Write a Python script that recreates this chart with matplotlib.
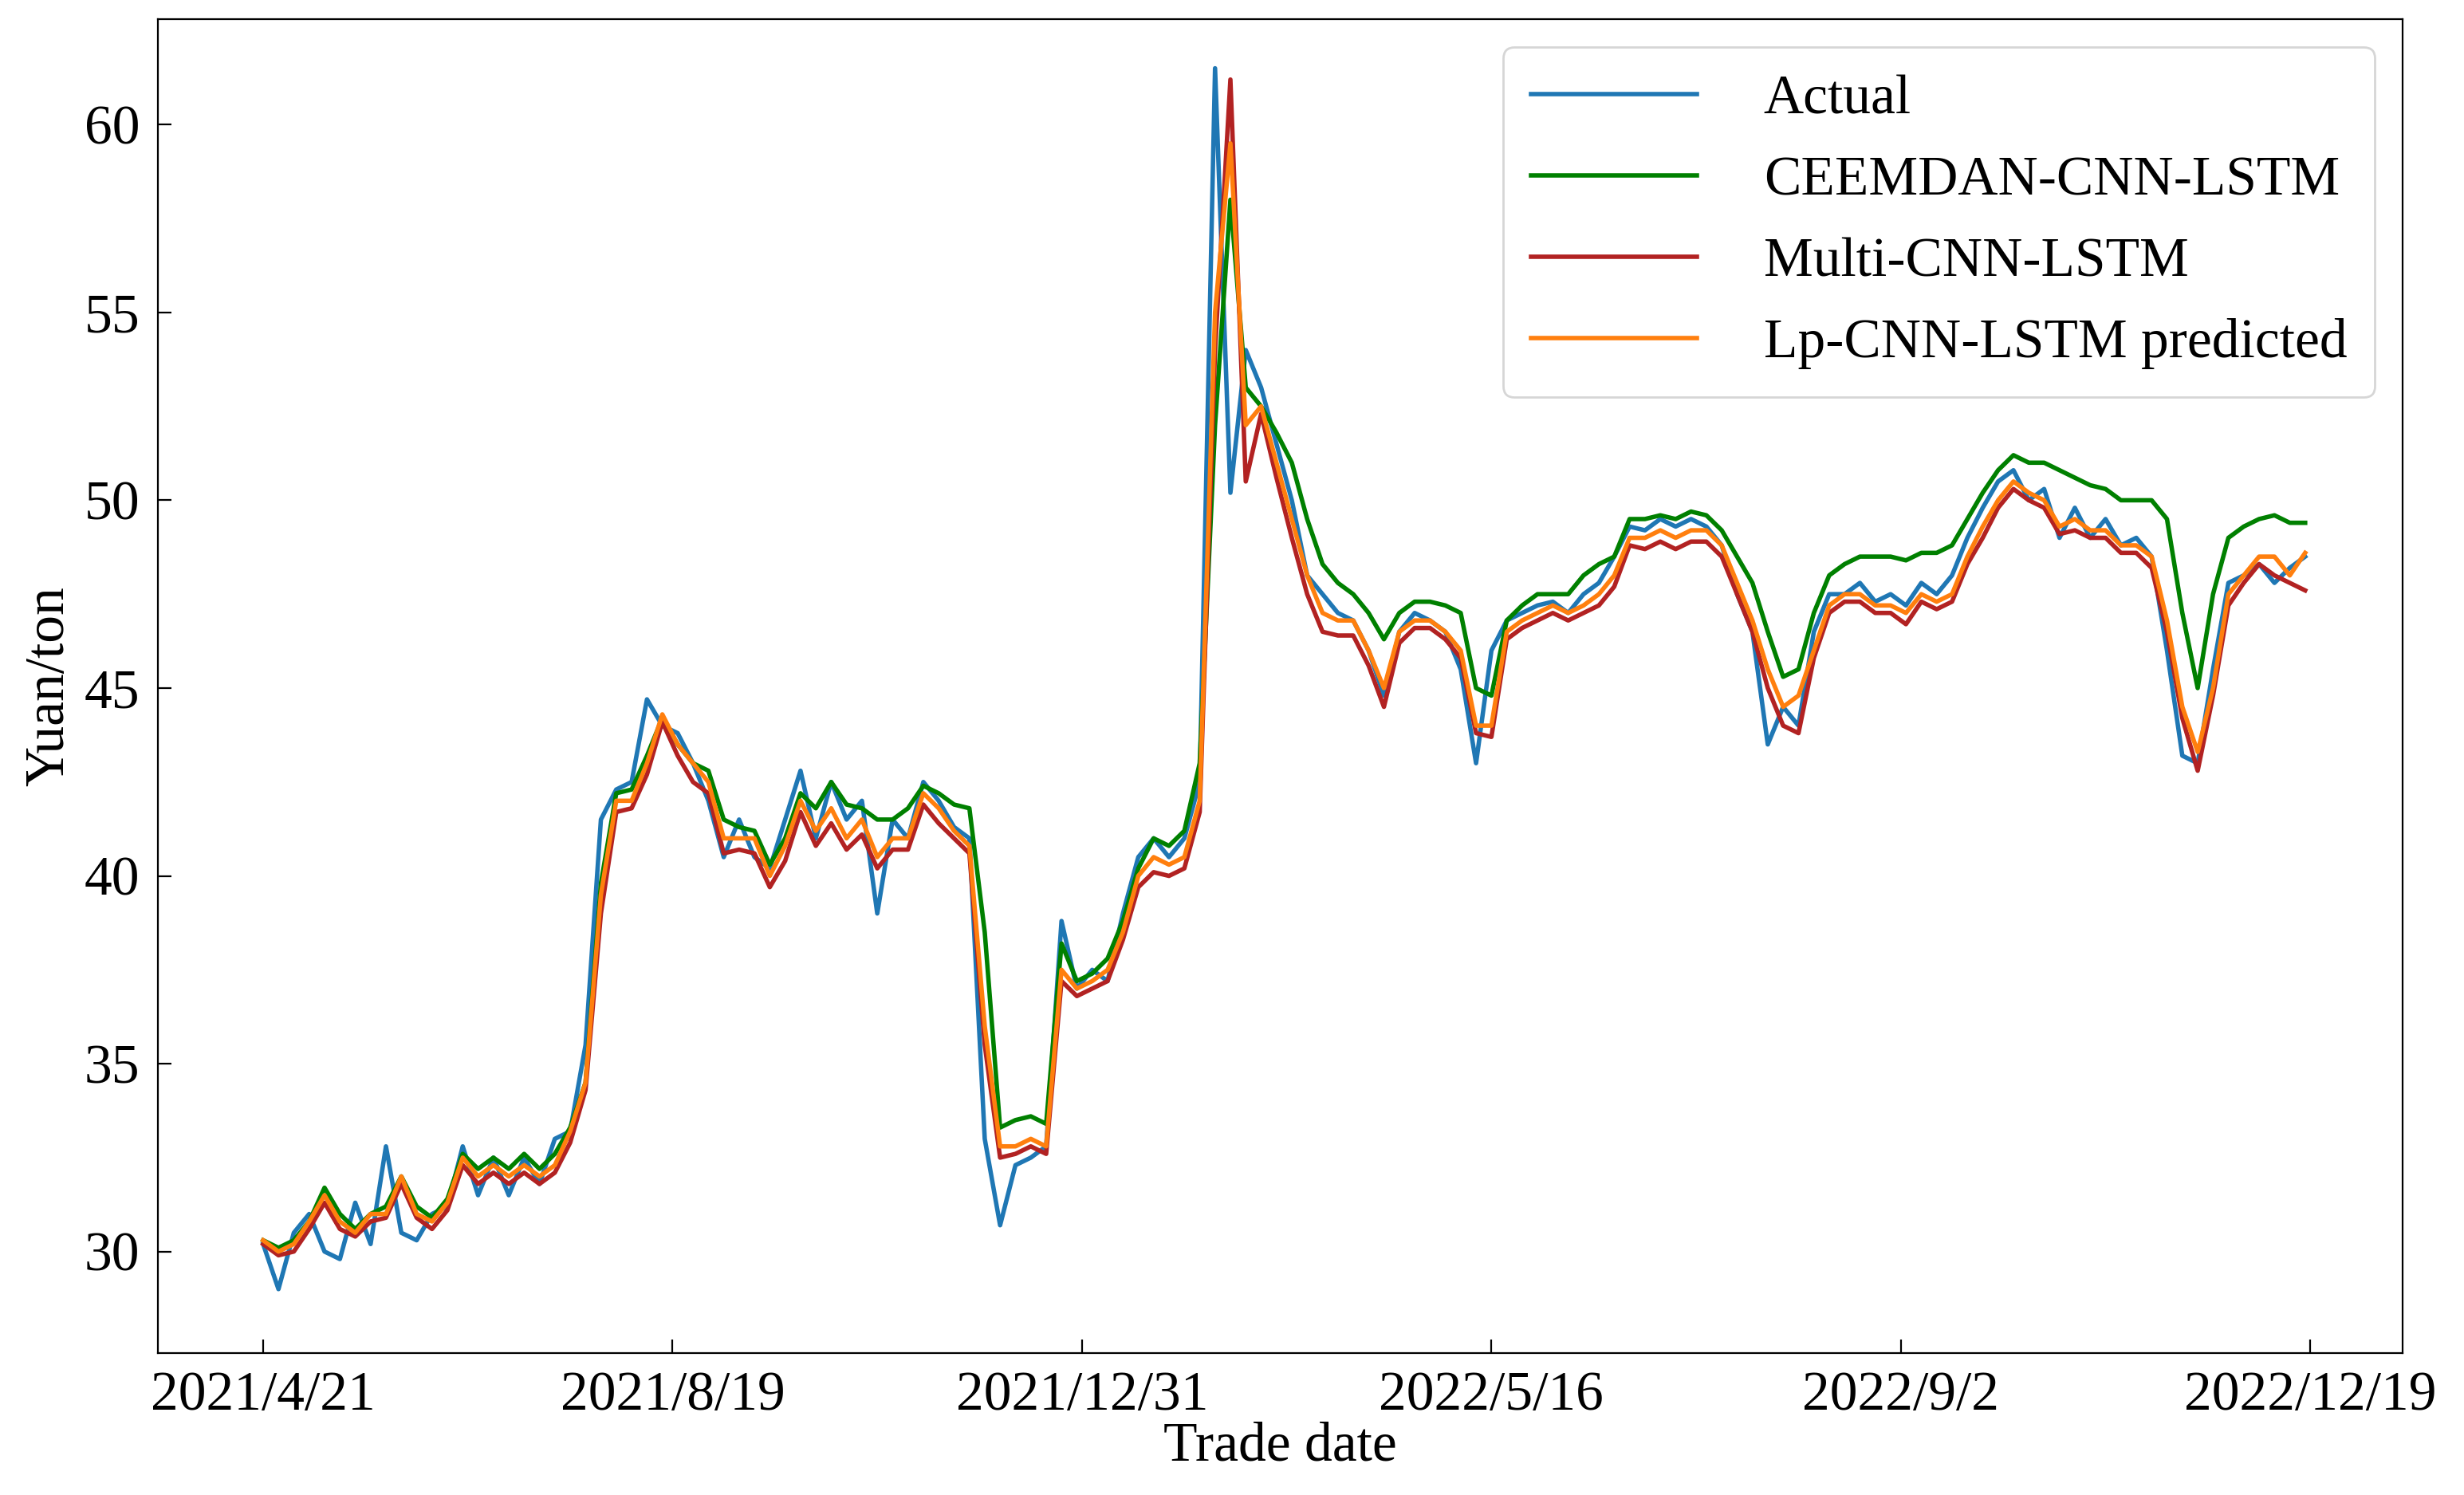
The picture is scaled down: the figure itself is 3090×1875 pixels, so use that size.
import numpy as np
import matplotlib.pyplot as plt

plt.rcParams['font.family'] = ['Liberation Serif', 'DejaVu Serif']

# trading-day index, sampled every 3 days
step = 3
tick_days = [0, 80, 160, 240, 320, 400]
tick_labels = ['2021/4/21', '2021/8/19', '2021/12/31', '2022/5/16', '2022/9/2', '2022/12/19']

actual = [30.2,29.0,30.5,31.0,30.0,29.8,31.3,30.2,32.8,30.5,
30.3,31.0,31.2,32.8,31.5,32.5,31.5,32.5,31.8,33.0,
33.2,35.5,41.5,42.3,42.5,44.7,44.0,43.8,43.0,42.0,
40.5,41.5,40.5,40.2,41.5,42.8,41.0,42.5,41.5,42.0,
39.0,41.5,41.0,42.5,42.0,41.3,41.0,33.0,30.7,32.3,
32.5,32.8,38.8,37.0,37.5,37.2,39.0,40.5,41.0,40.5,
41.0,42.5,61.5,50.2,54.0,53.0,51.5,50.0,48.0,47.5,
47.0,46.8,46.0,44.8,46.5,47.0,46.8,46.5,45.5,43.0,
46.0,46.8,47.0,47.2,47.3,47.0,47.5,47.8,48.5,49.3,
49.2,49.5,49.3,49.5,49.3,48.8,47.5,46.5,43.5,44.5,
44.0,46.5,47.5,47.5,47.8,47.3,47.5,47.2,47.8,47.5,
48.0,49.0,49.8,50.5,50.8,50.0,50.3,49.0,49.8,49.0,
49.5,48.8,49.0,48.5,46.0,43.2,43.0,45.5,47.8,48.0,
48.3,47.8,48.2,48.5]

ceemdan = [30.3,30.1,30.3,30.8,31.7,31.0,30.6,31.0,31.2,32.0,
31.2,30.9,31.4,32.6,32.2,32.5,32.2,32.6,32.2,32.6,
33.3,34.5,39.8,42.2,42.3,43.2,44.2,43.5,43.0,42.8,
41.5,41.3,41.2,40.3,41.0,42.2,41.8,42.5,41.9,41.8,
41.5,41.5,41.8,42.4,42.2,41.9,41.8,38.5,33.3,33.5,
33.6,33.4,38.2,37.2,37.4,37.8,38.8,40.2,41.0,40.8,
41.2,43.0,52.0,58.0,53.0,52.5,51.8,51.0,49.5,48.3,
47.8,47.5,47.0,46.3,47.0,47.3,47.3,47.2,47.0,45.0,
44.8,46.8,47.2,47.5,47.5,47.5,48.0,48.3,48.5,49.5,
49.5,49.6,49.5,49.7,49.6,49.2,48.5,47.8,46.5,45.3,
45.5,47.0,48.0,48.3,48.5,48.5,48.5,48.4,48.6,48.6,
48.8,49.5,50.2,50.8,51.2,51.0,51.0,50.8,50.6,50.4,
50.3,50.0,50.0,50.0,49.5,47.0,45.0,47.5,49.0,49.3,
49.5,49.6,49.4,49.4]

multi = [30.2,29.9,30.0,30.6,31.3,30.6,30.4,30.8,30.9,31.8,
30.9,30.6,31.1,32.3,31.8,32.1,31.8,32.1,31.8,32.1,
32.9,34.3,39.0,41.7,41.8,42.7,44.1,43.2,42.5,42.2,
40.6,40.7,40.6,39.7,40.4,41.7,40.8,41.4,40.7,41.1,
40.2,40.7,40.7,41.9,41.4,41.0,40.6,35.5,32.5,32.6,
32.8,32.6,37.2,36.8,37.0,37.2,38.3,39.7,40.1,40.0,
40.2,41.7,54.0,61.2,50.5,52.3,50.6,49.0,47.5,46.5,
46.4,46.4,45.6,44.5,46.2,46.6,46.6,46.3,45.8,43.8,
43.7,46.3,46.6,46.8,47.0,46.8,47.0,47.2,47.7,48.8,
48.7,48.9,48.7,48.9,48.9,48.5,47.5,46.5,45.0,44.0,
43.8,45.8,47.0,47.3,47.3,47.0,47.0,46.7,47.3,47.1,
47.3,48.3,49.0,49.8,50.3,50.0,49.8,49.1,49.2,49.0,
49.0,48.6,48.6,48.2,46.5,44.2,42.8,44.8,47.2,47.8,
48.3,48.0,47.8,47.6]

lp = [30.3,30.0,30.2,30.8,31.5,30.8,30.5,31.0,31.0,32.0,
31.0,30.8,31.3,32.5,32.0,32.3,32.0,32.3,32.0,32.3,
33.2,34.5,39.5,42.0,42.0,43.0,44.3,43.5,43.0,42.5,
41.0,41.0,41.0,40.0,40.8,42.0,41.2,41.8,41.0,41.5,
40.5,41.0,41.0,42.2,41.8,41.2,40.8,36.0,32.8,32.8,
33.0,32.8,37.5,37.0,37.2,37.5,38.5,40.0,40.5,40.3,
40.5,42.0,55.0,59.5,52.0,52.5,51.0,49.5,48.0,47.0,
46.8,46.8,46.0,45.0,46.5,46.8,46.8,46.5,46.0,44.0,
44.0,46.5,46.8,47.0,47.2,47.0,47.2,47.5,48.0,49.0,
49.0,49.2,49.0,49.2,49.2,48.8,47.8,46.8,45.5,44.5,
44.8,46.0,47.2,47.5,47.5,47.2,47.2,47.0,47.5,47.3,
47.5,48.5,49.3,50.0,50.5,50.2,50.0,49.3,49.5,49.2,
49.2,48.8,48.8,48.5,46.8,44.5,43.3,45.0,47.5,48.0,
48.5,48.5,48.0,48.6]

days = np.arange(len(actual)) * step

fig, ax = plt.subplots(figsize=(15.45, 9.375), dpi=200)
fig.subplots_adjust(left=0.064, right=0.975, top=0.987, bottom=0.095)
ax.plot(days, actual, color='#1f77b4', lw=2, label='Actual')
ax.plot(days, ceemdan, color='green', lw=2, label='CEEMDAN-CNN-LSTM')
ax.plot(days, multi, color='#b22222', lw=2, label='Multi-CNN-LSTM')
ax.plot(days, lp, color='#ff7f0e', lw=2, label='Lp-CNN-LSTM predicted')

ax.set_xticks(tick_days)
ax.set_xticklabels(tick_labels)
ax.set_xlim(-20.6, 418)
ax.set_ylim(27.3, 62.8)
ax.tick_params(direction='in', labelsize=25, length=6, pad=8)
ax.set_xlabel('Trade date', fontsize=25, labelpad=0)
ax.set_ylabel('Yuan/ton', fontsize=25, labelpad=4)
ax.legend(loc='upper right', fontsize=25, handlelength=3, borderpad=0.5,
          labelspacing=0.55, handletextpad=1.2)
plt.savefig('out.png')
